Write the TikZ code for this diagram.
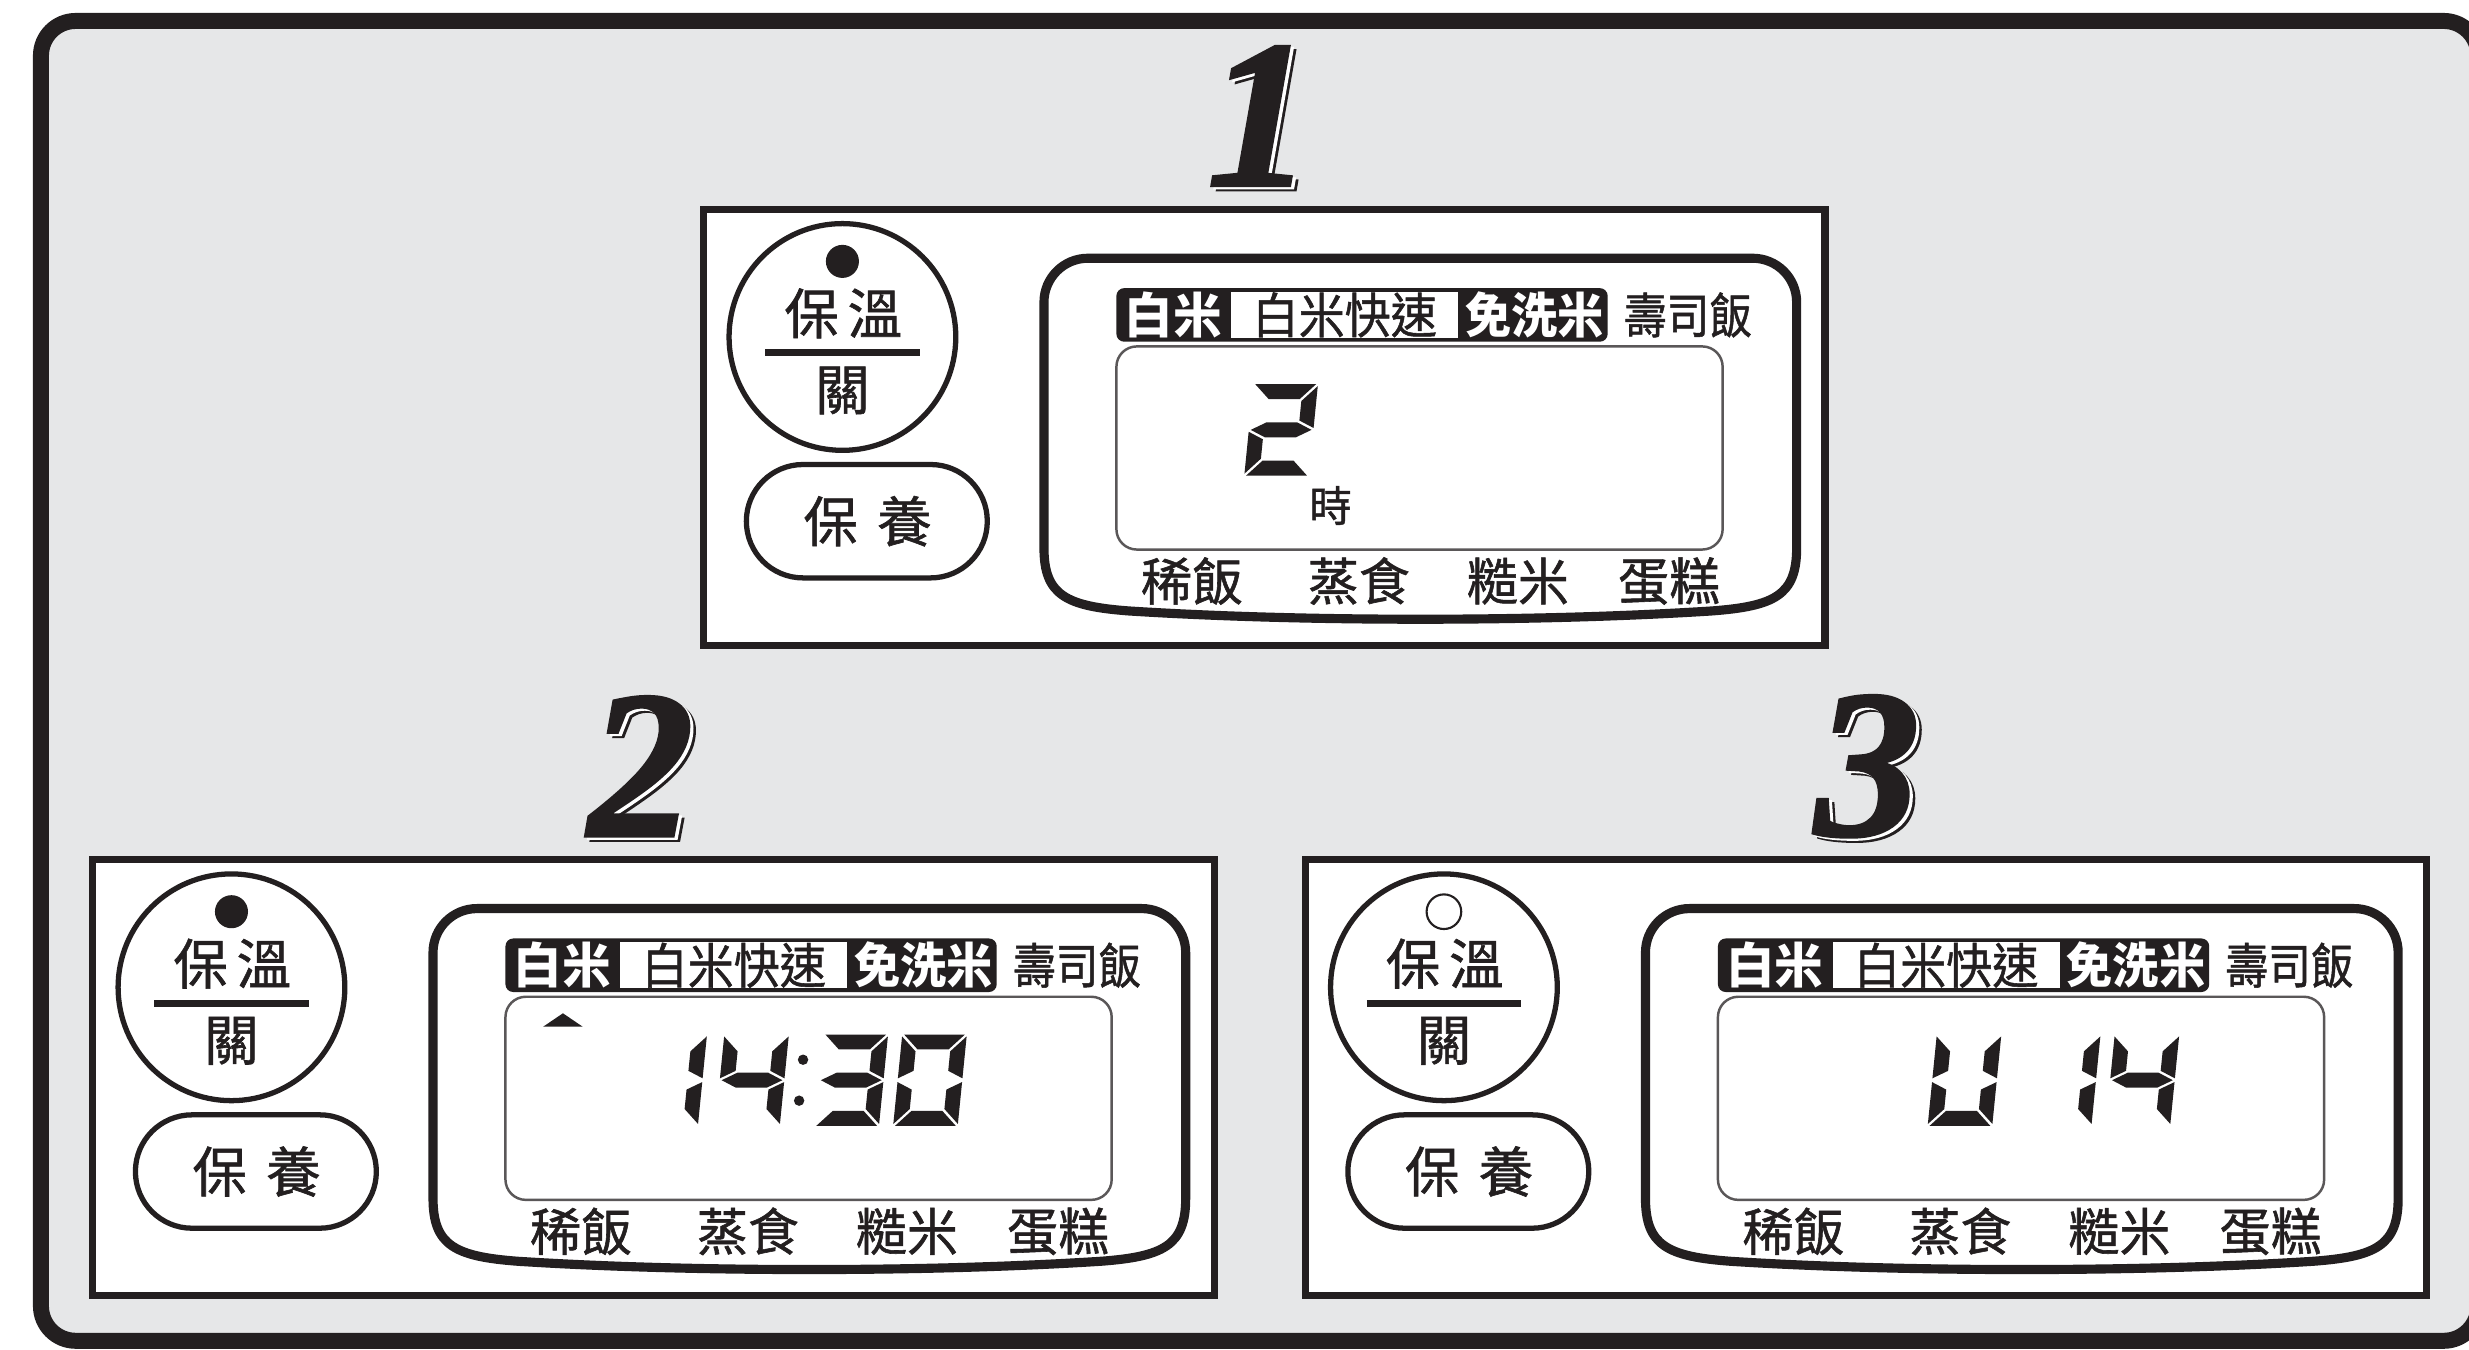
\documentclass[tikz,border=0pt]{standalone}
\usepackage{fontspec}
\newfontfamily\cjk{Noto Sans CJK TC}[FakeBold=1.1]
\newfontfamily\cjkb{Noto Sans CJK TC}
\newfontfamily\numfont{Liberation Serif}[BoldItalicFeatures={FakeBold=1.5}]
\definecolor{ink}{HTML}{231F20}
\definecolor{bggray}{HTML}{E6E7E8}
% seven-segment pieces (cell 41 x 58, y downwards)
\def\sgda{\fill[ink] (1.2,0) -- (39.8,0) -- (30.3,9.5) -- (10.7,9.5) -- cycle;}
\def\sgdd{\fill[ink] (1.2,58) -- (39.8,58) -- (30.3,48.5) -- (10.7,48.5) -- cycle;}
\def\sgdf{\fill[ink] (0,1.2) -- (9.5,10.7) -- (9.5,23.05) -- (0,27.8) -- cycle;}
\def\sgde{\fill[ink] (0,30.2) -- (9.5,34.95) -- (9.5,47.3) -- (0,56.8) -- cycle;}
\def\sgdb{\fill[ink] (41,1.2) -- (31.5,10.7) -- (31.5,23.05) -- (41,27.8) -- cycle;}
\def\sgdc{\fill[ink] (41,30.2) -- (31.5,34.95) -- (31.5,47.3) -- (41,56.8) -- cycle;}
\def\sgdg{\fill[ink] (1.2,29) -- (10.7,24.25) -- (30.3,24.25) -- (39.8,29) -- (30.3,33.75) -- (10.7,33.75) -- cycle;}
\newcommand\sevenseg[3]{%
  \begin{scope}[shift={(#1,#2)}, xslant=0.1]
    \foreach \sgname in {#3} {\csname sgd\sgname\endcsname}
  \end{scope}}
% step numeral with offset outline shadow, as one text
\newcommand\stepnum[1]{%
  \makebox[0pt][l]{\hspace{1.6pt}\raisebox{-1.2pt}{\color{ink}#1}}%
  \makebox[0pt][l]{\hspace{0.9pt}\raisebox{-0.6pt}{\color{white}#1}}%
  {\color{ink}#1}}
\newcommand\cookerpanel[4]{%
  \begin{scope}[shift={(#2,#3)}]
    \draw[panelline] (0,0) rectangle (712,277);
    \draw[btnline] (88,81) circle[radius=72];
    \node[bigcjk] (#1-bw) at (88.5,66) {保\hspace{2.5pt}溫};
    \draw[line width=2pt, draw=ink] (39,91) -- (137,91);
    \node[bigcjk] (#1-off) at (88,115) {關};
    \draw[btnline, rounded corners=16.1pt] (27,162) rectangle (180,234);
    \node[bigcjk] (#1-care) at (104,198) {保\hspace{5.5pt}養};
    \draw[displine] (216,215) [rounded corners=12.5pt] -- (216,31) -- (694,31) [sharp corners] -- (694,215)
      .. controls (694,245) and (680,252) .. (640,255)
      .. controls (530,262) and (380,262) .. (270,255)
      .. controls (230,252) and (216,245) .. (216,215) -- cycle;
    \fill[ink, rounded corners=2.2pt] (262,50) rectangle (574,84);
    \fill[white] (335,52.5) rectangle (479,81.5);
    \node[bandw] (#1-m1) at (298,67) {白米};
    \node[bandb] (#1-m2) at (407,67) {\scalebox{0.95}[1]{白米快速}};
    \node[bandw] (#1-m3) at (527.5,67) {\scalebox{0.95}[1]{免洗米}};
    \node[bandb] (#1-m4) at (625,67) {\scalebox{0.88}[1]{壽司飯}};
    \draw[lcdline, rounded corners=5.8pt] (262,87) rectangle (647,216);
    \node[lowcjk] (#1-l1) at (310,236) {稀飯};
    \node[lowcjk] (#1-l2) at (416,236) {蒸食};
    \node[lowcjk] (#1-l3) at (517,236) {糙米};
    \node[lowcjk] (#1-l4) at (613,236) {蛋糕};
    #4
  \end{scope}}
\begin{document}
\begin{tikzpicture}[x=0.015746cm, y=-0.015746cm,
  panelline/.style={line width=2pt, draw=ink, fill=white},
  btnline/.style={line width=1.5pt, draw=ink},
  displine/.style={line width=2.6pt, draw=ink},
  lcdline/.style={line width=0.7pt, draw=ink!75},
  bigcjk/.style={font=\cjk\fontsize{15.5}{16}\selectfont, text=ink, inner sep=0pt},
  bandw/.style={font=\cjkb\bfseries\fontsize{13.8}{14}\selectfont, text=white, inner sep=0pt},
  bandb/.style={font=\cjk\fontsize{13.8}{14}\selectfont, text=ink, inner sep=0pt},
  lowcjk/.style={font=\cjk\fontsize{14.5}{15}\selectfont, text=ink, inner sep=0pt},
  numtxt/.style={font=\numfont\bfseries\itshape\fontsize{60}{60}\selectfont, inner sep=0pt}]
\useasboundingbox (0,0) rectangle (1568,857);
\begin{scope}
  \clip (0,0) rectangle (1568,857);
  \draw[line width=4.55pt, draw=ink, fill=bggray, rounded corners=9.9pt] (26,13.3) rectangle (1574,851.5);
\end{scope}
% step numbers
\node[numtxt] (n1) at (800,75) {\stepnum{1}};
\node[numtxt] (n2) at (407,488) {\stepnum{2}};
\node[numtxt] (n3) at (1186,488) {\stepnum{3}};
% panel 1
\cookerpanel{p1}{447}{133}{%
  \fill[ink] (88,33) circle[radius=10.5];
  \sevenseg{349}{111}{a,b,g,e,d}
  \node[font=\cjk\fontsize{12}{12}\selectfont, text=ink, inner sep=0pt] (p1-hr) at (398,188) {時};
}
% panel 2
\cookerpanel{p2}{59}{546}{%
  \fill[ink] (88,33) circle[radius=10.5];
  \fill[ink] (286,106) -- (298.5,97.5) -- (311,106) -- cycle;
  \sevenseg{349}{111}{b,c}
  \sevenseg{401}{111}{f,g,b,c}
  \fill[ink] (451,127) circle[radius=3.3];
  \fill[ink] (448.5,153) circle[radius=3.3];
  \sevenseg{464}{111}{a,b,g,c,d}
  \sevenseg{514}{111}{a,b,c,d,e,f}
}
% panel 3
\cookerpanel{p3}{829}{546}{%
  \draw[line width=0.6pt, draw=ink] (88,33) circle[radius=11];
  \sevenseg{401}{111}{f,e,d,c,b}
  \sevenseg{464}{111}{b,c}
  \sevenseg{514}{111}{f,g,b,c}
}
\end{tikzpicture}
\end{document}
